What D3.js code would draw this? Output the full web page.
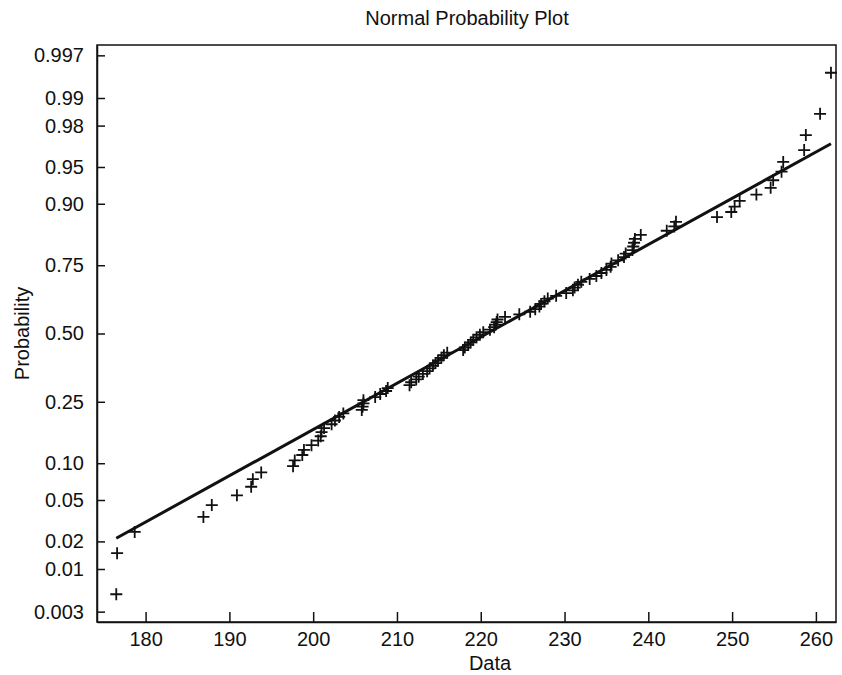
<!DOCTYPE html>
<html>
<head>
<meta charset="utf-8">
<script src="https://cdn.jsdelivr.net/npm/d3@7"></script>
<style>
  body { margin: 0; background: #fff; }
  text { font-family: "Liberation Sans", Arial, sans-serif; fill: #111; }
</style>
</head>
<body>
<div id="container"></div>
<script>
let w = 842;
let h = 675;
let margin = {left: 97, right: 6, top: 45, bottom: 53};

// sorted sample
let sample = [
  176.5, 176.6, 178.7, 186.9, 187.9, 190.9, 192.6, 192.8, 193.8, 197.6,
  197.8, 198.7, 198.9, 199.8, 200.6, 200.9, 201.0, 201.3, 202.2, 202.6,
  203.1, 203.6, 205.8, 205.9, 206.0, 206.0, 207.4, 208.0, 208.7, 208.9,
  211.5, 211.7, 212.3, 212.6, 213.1, 213.6, 213.9, 214.3, 214.6, 214.9,
  215.3, 215.6, 216.0, 217.9, 218.1, 218.5, 218.8, 219.1, 219.5, 219.9,
  220.3, 221.1, 221.6, 221.8, 221.9, 222.0, 222.9, 224.6, 225.9, 226.5,
  227.0, 227.2, 227.6, 228.0, 229.0, 230.2, 231.0, 231.2, 231.6, 232.0,
  233.0, 233.8, 234.4, 235.0, 235.5, 235.6, 236.4, 237.1, 237.3, 238.1,
  238.2, 238.3, 238.4, 239.1, 242.2, 243.1, 243.3, 248.2, 249.9, 250.3,
  250.9, 252.9, 254.6, 254.9, 255.9, 256.1, 258.6, 258.8, 260.5, 261.8
];

let probTicks = [0.003, 0.01, 0.02, 0.05, 0.10, 0.25, 0.50, 0.75, 0.90, 0.95, 0.98, 0.99, 0.997];
let probLabels = ["0.003", "0.01", "0.02", "0.05", "0.10", "0.25", "0.50", "0.75", "0.90", "0.95", "0.98", "0.99", "0.997"];
let dataTicks = [180, 190, 200, 210, 220, 230, 240, 250, 260];
let xDomain = [174.2, 262.4];
let zDomain = [-2.85, 2.85];

// inverse normal cdf (Acklam)
function probit(p) {
  let a = [-39.69683028665376, 220.9460984245205, -275.9285104469687, 138.3577518672690, -30.66479806614716, 2.506628277459239];
  let b = [-54.47609879822406, 161.5858368580409, -155.6989798598866, 66.80131188771972, -13.28068155288572];
  let c = [-0.007784894002430293, -0.3223964580411365, -2.400758277161838, -2.549732539343734, 4.374664141464968, 2.938163982698783];
  let d = [0.007784695709041462, 0.3224671290700398, 2.445134137142996, 3.754408661907416];
  let plow = 0.02425, phigh = 1 - plow, q, r;
  if (p < plow) {
    q = Math.sqrt(-2 * Math.log(p));
    return (((((c[0]*q+c[1])*q+c[2])*q+c[3])*q+c[4])*q+c[5]) / ((((d[0]*q+d[1])*q+d[2])*q+d[3])*q+1);
  }
  if (p > phigh) {
    q = Math.sqrt(-2 * Math.log(1 - p));
    return -(((((c[0]*q+c[1])*q+c[2])*q+c[3])*q+c[4])*q+c[5]) / ((((d[0]*q+d[1])*q+d[2])*q+d[3])*q+1);
  }
  q = p - 0.5; r = q * q;
  return (((((a[0]*r+a[1])*r+a[2])*r+a[3])*r+a[4])*r+a[5])*q / (((((b[0]*r+b[1])*r+b[2])*r+b[3])*r+b[4])*r+1);
}

let viz = d3.select("#container").append("svg")
    .attr("width", w)
    .attr("height", h)
    .style("background-color", "white");

let xScale = d3.scaleLinear().domain(xDomain).range([margin.left, w - margin.right]);
let yScale = d3.scaleLinear().domain(zDomain).range([h - margin.bottom, margin.top]);

// plotting positions
let n = sample.length;
let points = sample.map((v, i) => ({x: v, z: probit((i + 0.5) / n)}));

// reference line through 1st and 3rd quartiles, extended to min and max
let q1 = d3.quantile(sample, 0.25);
let q3 = d3.quantile(sample, 0.75);
let zq = probit(0.75);
let slope = (2 * zq) / (q3 - q1);
let mid = (q1 + q3) / 2;
let lineEnds = d3.extent(sample).map(v => ({x: v, z: (v - mid) * slope}));

// frame
viz.append("rect")
    .attr("x", margin.left)
    .attr("y", margin.top)
    .attr("width", w - margin.left - margin.right)
    .attr("height", h - margin.top - margin.bottom)
    .attr("fill", "none")
    .attr("stroke", "#111")
    .attr("stroke-width", 1.5);

// axes
let xAxis = d3.axisBottom(xScale).tickValues(dataTicks).tickSizeInner(-10).tickSizeOuter(0).tickPadding(10);
let xAxisGroup = viz.append("g")
    .attr("class", "xaxisgroup")
    .attr("transform", "translate(0," + (h - margin.bottom) + ")")
    .call(xAxis);

let yAxis = d3.axisLeft(yScale)
    .tickValues(probTicks.map(probit))
    .tickFormat((d, i) => probLabels[i])
    .tickSizeInner(-8).tickSizeOuter(0).tickPadding(13);
let yAxisGroup = viz.append("g")
    .attr("class", "yaxisgroup")
    .attr("transform", "translate(" + margin.left + ",0)")
    .call(yAxis);

[xAxisGroup, yAxisGroup].forEach(g => {
  g.select(".domain").attr("stroke", "#111").attr("stroke-width", 1.5);
  g.selectAll(".tick line").attr("stroke", "#111").attr("stroke-width", 1.5);
  g.selectAll("text")
      .style("font-family", "'Liberation Sans', Arial, sans-serif")
      .style("font-size", "20px")
      .attr("fill", "#111");
});

// reference line
viz.append("line")
    .attr("x1", xScale(lineEnds[0].x))
    .attr("y1", yScale(lineEnds[0].z))
    .attr("x2", xScale(lineEnds[1].x))
    .attr("y2", yScale(lineEnds[1].z))
    .attr("stroke", "#111")
    .attr("stroke-width", 3);

// crosses
let s = 6;
let marks = viz.append("g").attr("class", "graphgroup")
  .selectAll(".datagroup").data(points).enter()
  .append("g")
    .attr("class", "datagroup")
    .attr("transform", d => "translate(" + xScale(d.x) + "," + yScale(d.z) + ")");
marks.append("path")
    .attr("d", "M" + (-s) + ",0H" + s + "M0," + (-s) + "V" + s)
    .attr("stroke", "#111")
    .attr("stroke-width", 1.8)
    .attr("fill", "none");

// labels
viz.append("text")
    .attr("x", 467)
    .attr("y", 25)
    .attr("text-anchor", "middle")
    .style("font-size", "20px")
    .text("Normal Probability Plot");

viz.append("text")
    .attr("x", 490)
    .attr("y", 670)
    .attr("text-anchor", "middle")
    .style("font-size", "20px")
    .text("Data");

viz.append("text")
    .attr("transform", "translate(29," + yScale(0) + ") rotate(-90)")
    .attr("text-anchor", "middle")
    .style("font-size", "20px")
    .text("Probability");
</script>
</body>
</html>
